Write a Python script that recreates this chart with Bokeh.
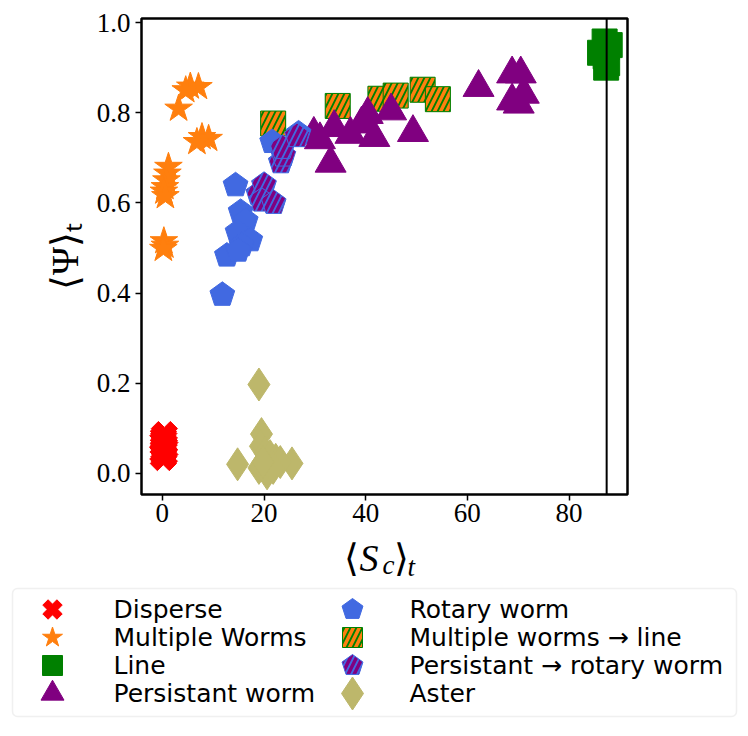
import numpy as np
from bokeh.plotting import figure
from bokeh.models import Range1d, FixedTicker, PrintfTickFormatter, Span, BoxAnnotation
from bokeh.layouts import column
from bokeh.embed import file_html
from bokeh.resources import INLINE
from bokeh.core.properties import value

# ---------------- data ----------------
disperse_x = [0.2, 0.4, 0.1, 0.3, 0.5, 0.2, 0.4, 0.1, 0.3, 0.2, 0.4]
disperse_y = [0.035, 0.04, 0.045, 0.05, 0.055, 0.06, 0.065, 0.07, 0.075, 0.08, 0.086]

mworms_x = [5.5, 7.1, 4.6, 3.2, 7.8, 9.1, 6.8, 1.2, 1.0, 0.8, 0.5, 0.3, 0.6, 0.3, 0.5, 0.2]
mworms_y = [0.858, 0.857, 0.85, 0.809, 0.746, 0.742, 0.735, 0.68, 0.665, 0.65, 0.635, 0.625, 0.615, 0.515, 0.505, 0.498]

line_x = [86.1, 87.0, 87.4, 87.2, 87.5, 87.3, 88.0]
line_y = [0.933, 0.958, 0.945, 0.925, 0.91, 0.90, 0.95]

pworm_x = [29.8, 31.0, 33.8, 33.1, 37.0, 39.2, 40.4, 41.7, 45.0, 49.3, 62.2, 68.8, 70.5, 68.8, 70.1, 71.1]
pworm_y = [0.752, 0.74, 0.767, 0.688, 0.752, 0.775, 0.796, 0.745, 0.804, 0.756, 0.856, 0.886, 0.886, 0.826, 0.819, 0.841]

rotary_x = [14.4, 15.4, 16.4, 14.8, 17.3, 15.6, 12.7, 14.9, 11.8, 21.6, 26.8]
rotary_y = [0.639, 0.58, 0.56, 0.535, 0.517, 0.506, 0.483, 0.494, 0.396, 0.735, 0.754]

mw_line_x = [21.8, 34.5, 42.9, 45.9, 51.2, 54.2]
mw_line_y = [0.776, 0.815, 0.831, 0.838, 0.851, 0.83]

p_rot_x = [18.9, 20.0, 19.5, 21.9, 23.3, 23.8, 23.6, 26.5]
p_rot_y = [0.62, 0.64, 0.605, 0.60, 0.69, 0.705, 0.722, 0.748]

aster_x = [19.0, 19.5, 14.8, 25.5, 19.3, 20.2, 21.2, 22.3, 23.2, 19.0, 20.6, 21.8, 19.8]
aster_y = [0.197, 0.087, 0.02, 0.022, 0.06, 0.045, 0.038, 0.03, 0.025, 0.012, 0.0, 0.012, 0.025]

vline_x = 87.4

x_ticks = [0, 20, 40, 60, 80]
y_ticks = [0.0, 0.2, 0.4, 0.6, 0.8, 1.0]

labels = ["Disperse", "Multiple Worms", "Line", "Persistant worm",
          "Rotary worm", "Multiple worms \u2192 line", "Persistant \u2192 rotary worm", "Aster"]

y_label = "\u27e8\u03a8\u27e9\u209c"
# x-axis label pieces: (text, italic, font size)
xlabel_parts = [("\u27e8", False, "38px"), ("S", True, "38px"), ("c", True, "27px"),
                ("\u27e9", False, "38px"), ("t", True, "27px")]

# ---------------- styles / layout ----------------
RED = "red"
ORANGE = "#ff7f0e"
GREEN = "green"
PURPLE = "purple"
BLUE = "#4169E1"
KHAKI = "#BDB76B"

W = 740          # total width
H1 = 534         # height of the top block (plot)
H2 = 736 - H1    # height of the bottom block (x label + legend)
X0, X1 = -4.1, 91.5
Y0, Y1 = -0.047, 1.009
FW, FH = 486, 476
FRAME_LEFT = 141
FRAME_TOP = 18

p = figure(width=W, height=H1, output_backend="svg", toolbar_location=None,
           x_range=Range1d(X0, X1), y_range=Range1d(Y0, Y1),
           min_border_left=FRAME_LEFT, min_border_right=W - FRAME_LEFT - FW,
           min_border_top=FRAME_TOP, min_border_bottom=H1 - FRAME_TOP - FH)
p.frame_align = False
p.xgrid.visible = False
p.ygrid.visible = False
p.outline_line_color = "black"
p.outline_line_width = 2.5
p.background_fill_color = "white"
p.border_fill_color = "white"

for ax in (p.xaxis, p.yaxis):
    ax.axis_line_color = None
    ax.major_tick_line_color = "black"
    ax.major_tick_line_width = 1.5
    ax.major_tick_out = 6
    ax.major_tick_in = 0
    ax.minor_tick_line_color = None
    ax.major_label_text_font = "Liberation Serif"
    ax.major_label_text_font_size = "27px"
    ax.major_label_text_color = "black"
p.yaxis.major_label_standoff = 5
p.xaxis.major_label_standoff = 3
p.xaxis.ticker = FixedTicker(ticks=x_ticks)
p.yaxis.ticker = FixedTicker(ticks=y_ticks)
p.xaxis.formatter = PrintfTickFormatter(format="%d")
p.yaxis.formatter = PrintfTickFormatter(format="%.1f")

p.yaxis.axis_label = y_label
p.yaxis.axis_label_text_font = "Liberation Serif"
p.yaxis.axis_label_text_font_style = "normal"
p.yaxis.axis_label_text_font_size = "38px"
p.yaxis.axis_label_text_color = "black"
p.yaxis.axis_label_standoff = 8

HATCH = dict(hatch_pattern="/", hatch_scale=12, hatch_weight=3.5)

# draw order
p.scatter(line_x, line_y, marker="square", size=25, fill_color=GREEN, line_color=GREEN)
p.scatter(mw_line_x, mw_line_y, marker="square", size=25, fill_color=GREEN, line_color=GREEN,
          hatch_color=ORANGE, **HATCH)
p.scatter(pworm_x, pworm_y, marker="triangle", size=31, fill_color=PURPLE, line_color=PURPLE)
p.ngon(x=rotary_x, y=rotary_y, radius=13, radius_units="screen", n=5,
       fill_color=BLUE, line_color=BLUE)
p.ngon(x=p_rot_x, y=p_rot_y, radius=13, radius_units="screen", n=5,
       fill_color=BLUE, line_color=BLUE, hatch_color=PURPLE, **HATCH)
p.scatter(mworms_x, mworms_y, marker="star", size=29, fill_color=ORANGE, line_color=ORANGE)
p.scatter(disperse_x, disperse_y, marker="plus", size=27, angle=np.pi / 4,
          fill_color=RED, line_color=RED)
p.scatter(aster_x, aster_y, marker="diamond", size=33, fill_color=KHAKI, line_color=KHAKI)

p.add_layout(Span(location=vline_x, dimension="height", line_color="black", line_width=2))


def blank_fig(w, h):
    f = figure(width=w, height=h, output_backend="svg", toolbar_location=None,
               x_range=Range1d(0, w), y_range=Range1d(0, h), min_border=0,
               x_axis_type=None, y_axis_type=None)
    f.frame_align = False
    f.outline_line_color = None
    f.grid.visible = False
    f.background_fill_color = "white"
    f.border_fill_color = "white"
    return f


def put_text(f, x, y, txt, size, italic=False, font="Liberation Serif"):
    f.text([x], [y], text=[txt], text_align="left", text_baseline="alphabetic",
           text_font=value(font), text_font_size=size,
           text_font_style="italic" if italic else "normal", text_color="black")


# ---------------- bottom block: x label + legend ----------------
lg = blank_fig(W, H2)
x_page_pos = [343, 359, 382, 393, 407]
x_base_y = [557, 557, 564, 557, 566]
for (txt, it, sz), px, by in zip(xlabel_parts, x_page_pos, x_base_y):
    put_text(lg, px, 736 - by, txt, sz, italic=it)

lg.add_layout(BoxAnnotation(left=12, right=736, bottom=736 - 716, top=736 - 588,
                            fill_color="white", fill_alpha=1.0, level="underlay",
                            line_color="#cccccc", line_width=1.5, border_radius=5))

styles = [
    dict(kind="scatter", marker="plus", size=20, angle=np.pi / 4, fill_color=RED, line_color=RED),
    dict(kind="scatter", marker="star", size=21, fill_color=ORANGE, line_color=ORANGE),
    dict(kind="scatter", marker="square", size=20, fill_color=GREEN, line_color=GREEN),
    dict(kind="scatter", marker="triangle", size=23, fill_color=PURPLE, line_color=PURPLE),
    dict(kind="ngon", radius=11, fill_color=BLUE, line_color=BLUE),
    dict(kind="scatter", marker="square", size=20, fill_color=GREEN, line_color=GREEN,
         hatch_color=ORANGE, **HATCH),
    dict(kind="ngon", radius=11, fill_color=BLUE, line_color=BLUE, hatch_color=PURPLE, **HATCH),
    dict(kind="scatter", marker="diamond", size=33, fill_color=KHAKI, line_color=KHAKI),
]
marker_cx = [52, 352]
text_x = [113, 409]
for i, (lab, st) in enumerate(zip(labels, styles)):
    col, rw = divmod(i, 4)
    yy = 736 - (609 + 28 * rw)
    st = dict(st)
    kind = st.pop("kind")
    if kind == "scatter":
        lg.scatter([marker_cx[col]], [yy], **st)
    else:
        r = st.pop("radius")
        lg.ngon(x=[marker_cx[col]], y=[yy], radius=r, radius_units="screen", n=5, **st)
    lg.text([text_x[col]], [yy], text=[lab], text_baseline="middle", text_align="left",
            text_font=value("DejaVu Sans"), text_font_size="25px", text_color="black")

layout = column(p, lg, spacing=0)
open("out.html", "w").write(file_html(layout, INLINE))
